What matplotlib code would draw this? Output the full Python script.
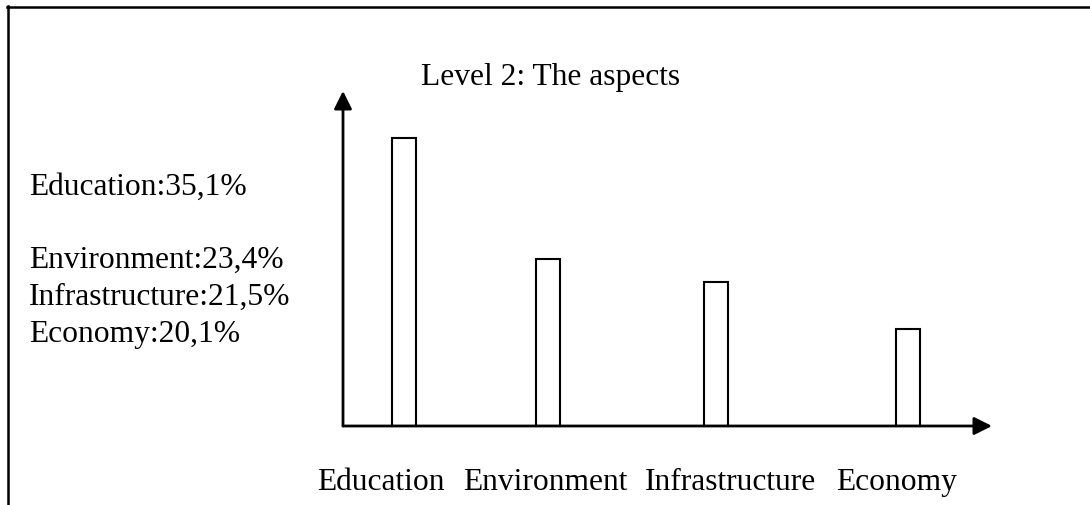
import matplotlib
matplotlib.use("Agg")
import matplotlib.pyplot as plt
from matplotlib.lines import Line2D

# ---- data ----
categories = ["Education", "Environment", "Infrastructure", "Economy"]
percent_labels = ["35,1%", "23,4%", "21,5%", "20,1%"]
# bar heights as drawn in the picture, in % of the y-axis length
drawn_heights = [86, 50, 43, 29]
title = "Level 2: The aspects"

# ---- layout ----
W, H = 1090, 506
bar_slots = [9.4, 31.6, 57.5, 87.1]      # bar centres, % of x-axis length
bar_width = 3.7
label_left_px = [317, 463, 645, 836]
FONT = "Liberation Serif"
FS = 22.7

fig = plt.figure(figsize=(W / 100, H / 100), dpi=100)
fig.patch.set_facecolor("white")

def fx(px):
    return px / W

def fy(py):
    return 1 - py / H

# outer frame (top and left edges only)
frame_kw = dict(color="black", lw=1.8, transform=fig.transFigure)
fig.add_artist(Line2D([fx(7), fx(1090)], [fy(7.5), fy(7.5)], **frame_kw))
fig.add_artist(Line2D([fx(7.5), fx(7.5)], [fy(7), fy(506)], **frame_kw))

# axes area (y-axis at x=343, x-axis at y=427, arrow tips at y=92 / x=992)
ax = fig.add_axes([fx(343), fy(427), fx(992) - fx(343), fy(92) - fy(427)])
ax.set_xlim(0, 100)
ax.set_ylim(0, 100)
ax.axis("off")

ax.bar(bar_slots, drawn_heights, width=bar_width, facecolor="white",
       edgecolor="black", linewidth=1.5, zorder=2)

arrow_kw = dict(arrowstyle="-|>", lw=2, color="black", mutation_scale=27,
                shrinkA=0, shrinkB=0)
ax.annotate("", xy=(0, 1), xytext=(0, 0), xycoords="axes fraction",
            textcoords="axes fraction", arrowprops=arrow_kw, annotation_clip=False)
ax.annotate("", xy=(1, 0), xytext=(0, 0), xycoords="axes fraction",
            textcoords="axes fraction", arrowprops=arrow_kw, annotation_clip=False)

# title
fig.text(fx(421), fy(85), title, family=FONT, fontsize=FS, va="baseline", ha="left")

# percentage list
list_baselines = [195, 268, 305, 342]
for cat, pct, b in zip(categories, percent_labels, list_baselines):
    fig.text(fx(29), fy(b), f"{cat}:{pct}", family=FONT, fontsize=FS,
             va="baseline", ha="left")

# category labels under the axis
for cat, lx in zip(categories, label_left_px):
    fig.text(fx(lx), fy(490), cat, family=FONT, fontsize=FS,
             va="baseline", ha="left")

fig.savefig("out.png", dpi=100, facecolor="white")
